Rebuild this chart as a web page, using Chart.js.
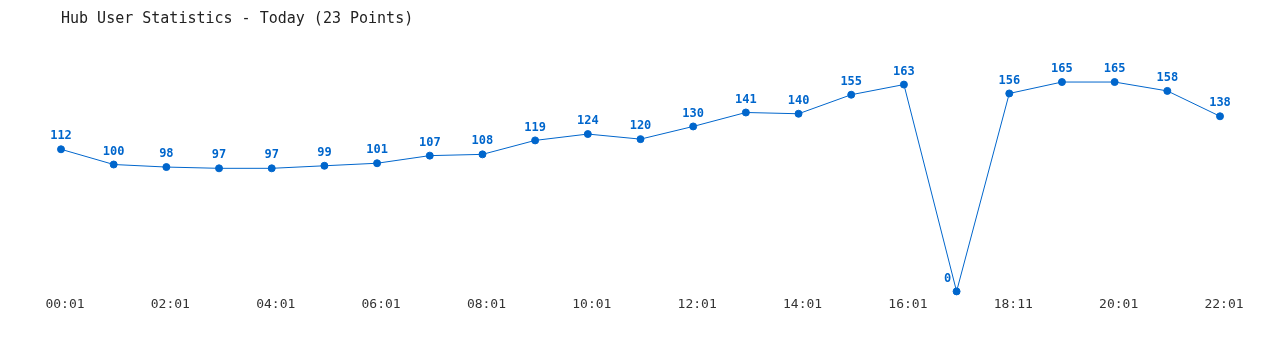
<!DOCTYPE html>
<html>
<head>
<meta charset="utf-8">
<script src="https://cdn.jsdelivr.net/npm/chart.js@4"></script>
<style>
  html, body { margin: 0; padding: 0; background: #fff; }
  #wrap { width: 1280px; height: 350px; }
</style>
</head>
<body>
<div id="wrap"><canvas id="hubChart"></canvas></div>
<script>
const timeLabels = ["00:01","01:01","02:01","03:01","04:01","05:01","06:01","07:01","08:01","09:01","10:01","11:01",
  "12:01","13:01","14:01","15:01","16:01","17:01","18:11","19:01","20:01","21:01","22:01"];
const userCounts = [112,100,98,97,97,99,101,107,108,119,124,120,130,141,140,155,163,0,156,165,165,158,138];

const blue = "#0066cc";
const mono = "'DejaVu Sans Mono', 'Liberation Mono', monospace";

// draws the number above every point
const valueLabels = {
  id: "valueLabels",
  afterDatasetsDraw(chart) {
    const ctx = chart.ctx;
    const meta = chart.getDatasetMeta(0);
    ctx.save();
    ctx.font = "bold 12px " + mono;
    ctx.fillStyle = blue;
    ctx.textAlign = "center";
    ctx.textBaseline = "middle";
    meta.data.forEach((pt, i) => {
      const v = userCounts[i];
      // the zero label sits a bit to the left of its point
      const dx = v === 0 ? -9 : 0;
      ctx.fillText(String(v), pt.x + dx, pt.y - 13);
    });
    ctx.restore();
  }
};

new Chart(document.getElementById("hubChart"), {
  type: "line",
  data: {
    labels: timeLabels,
    datasets: [{
      data: userCounts,
      borderColor: blue,
      backgroundColor: blue,
      borderWidth: 1,
      pointRadius: 3.5,
      pointHoverRadius: 3.5,
      tension: 0,
      fill: false,
      clip: false
    }]
  },
  options: {
    responsive: true,
    maintainAspectRatio: false,
    animation: false,
    layout: { padding: { left: 61, right: 60, top: 0, bottom: 33 } },
    plugins: {
      legend: { display: false },
      tooltip: { enabled: false },
      title: {
        display: true,
        text: "Hub User Statistics - Today (23 Points)",
        align: "start",
        color: "#222",
        font: { family: mono, size: 15, weight: "normal" },
        padding: { top: 10, bottom: 35 }
      }
    },
    scales: {
      x: {
        offset: false,
        grid: { display: false, drawTicks: false },
        border: { display: false },
        ticks: {
          autoSkip: false,
          maxRotation: 0,
          padding: 5,
          labelOffset: 4,
          color: "#333",
          font: { family: mono, size: 13 },
          callback: (val, i) => (i % 2 === 0 ? timeLabels[i] : "")
        }
      },
      y: {
        display: false,
        min: 0,
        max: 180
      }
    }
  },
  plugins: [valueLabels]
});
</script>
</body>
</html>
